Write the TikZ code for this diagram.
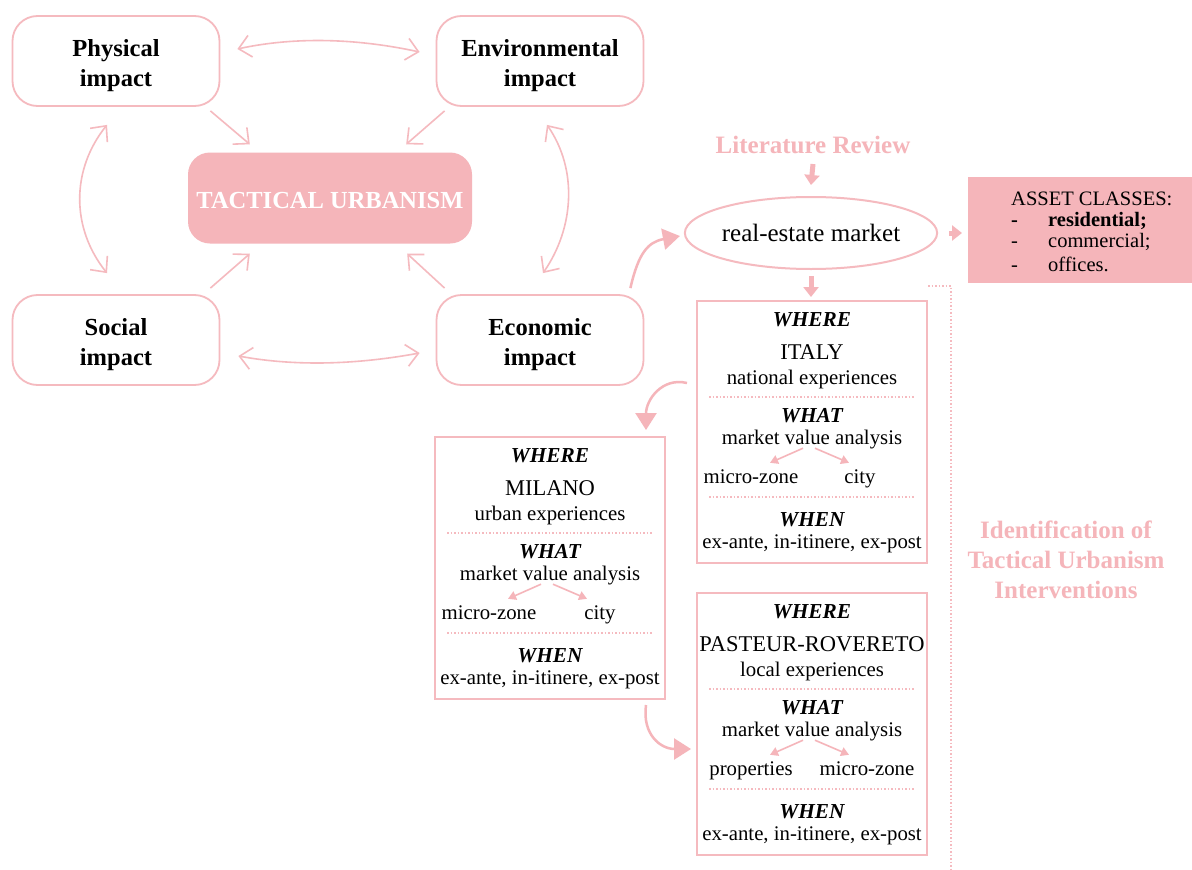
\documentclass[tikz,border=0pt]{standalone}
\usepackage{fontspec}
\setmainfont{Liberation Serif}
\usetikzlibrary{arrows.meta,shapes.geometric,calc}
\definecolor{tupink}{RGB}{245,181,186}
\definecolor{tuline}{RGB}{245,186,191}
\tikzset{
  impact/.style={draw=tuline,line width=1.8pt,rounded corners=25pt,minimum width=207pt,minimum height=90pt,align=center,font=\fontsize{24.5}{30}\selectfont\bfseries},
  core/.style={fill=tupink,rounded corners=22pt,minimum width=284pt,minimum height=91pt,text=white,font=\fontsize{24.5}{27}\selectfont\bfseries,text height=20pt,text depth=0pt},
  mutual/.style={draw=tuline,line width=1.6pt,{Straight Barb[length=12pt,width=22pt]}-{Straight Barb[length=12pt,width=22pt]}},
  toward/.style={draw=tuline,line width=1.6pt,-{Straight Barb[length=12pt,width=22pt]}},
  block/.style={draw=tupink,line width=5pt,-{Triangle[length=10pt,width=15pt]}},
  swing/.style={draw=tupink,line width=2.5pt,-{Triangle[length=17pt,width=21pt]}},
  minor/.style={draw=tupink,line width=1.6pt,-{Triangle[length=8pt,width=9pt]}},
  sep/.style={draw=tuline,line width=1.5pt,dotted},
  wwwbox/.style={draw=tuline,line width=2pt,minimum width=230pt,minimum height=262pt,inner sep=0pt},
  market/.style={ellipse,draw=tuline,line width=2pt,minimum width=230pt,minimum height=72pt,inner sep=0pt,font=\fontsize{25}{28}\selectfont},
  assetbox/.style={fill=tupink,minimum width=224pt,minimum height=106pt,inner sep=0pt},
  pinktitle/.style={text=tupink,align=center,inner sep=0pt,font=\fontsize{25}{30}\selectfont\bfseries},
  head/.style={inner sep=0pt,text height=19pt,text depth=4pt,font=\fontsize{21.3}{24}\selectfont\bfseries\itshape},
  place/.style={inner sep=0pt,text height=19pt,text depth=4pt,font=\fontsize{22.5}{25}\selectfont},
  body/.style={inner sep=0pt,text height=18pt,text depth=4pt,font=\fontsize{20.8}{24}\selectfont}
}
\begin{document}
\begin{tikzpicture}[x=1pt,y=-1pt]
  \useasboundingbox (0,0) rectangle (1192,870);
  \fill[white] (0,0) rectangle (1192,870);

  \node[impact] (phys) at (116,61) {\rule{0pt}{27pt}Physical\\impact};
  \node[impact] (env) at (540,61) {\rule{0pt}{27pt}Environmental\\impact};
  \node[impact] (soc) at (116,340) {\rule{0pt}{27pt}Social\\impact};
  \node[impact] (eco) at (540,340) {\rule{0pt}{27pt}Economic\\impact};
  \node[core] (tu) at (330,198) {TACTICAL URBANISM};

  \draw[mutual] ([xshift=17pt,yshift=12pt]phys.east) .. controls +(60,-13) and +(-60,-13) .. ([xshift=-16pt,yshift=9pt]env.west);
  \draw[mutual] ([xshift=18pt,yshift=-16pt]soc.east) .. controls +(60,11) and +(-60,11) .. ([xshift=-16pt,yshift=-13pt]eco.west);
  \draw[mutual] ([xshift=-9pt,yshift=-18pt]phys.south) .. controls +(-36,45) and +(-36,-45) .. ([xshift=-9pt,yshift=21pt]soc.north);
  \draw[mutual] ([xshift=7pt,yshift=-18pt]env.south) .. controls +(31,45) and +(31,-45) .. ([xshift=3pt,yshift=21pt]eco.north);

  \draw[toward] ([xshift=-10pt,yshift=-4pt]phys.south east) -- ([xshift=62pt,yshift=8pt]tu.north west);
  \draw[toward] ([xshift=9pt,yshift=-4pt]env.south west) -- ([xshift=-66pt,yshift=8pt]tu.north east);
  \draw[toward] ([xshift=-10pt,yshift=6pt]soc.north east) -- ([xshift=62pt,yshift=-10pt]tu.south west);
  \draw[toward] ([xshift=9pt,yshift=6pt]eco.north west) -- ([xshift=-65pt,yshift=-10pt]tu.south east);

  \node[pinktitle] (lit) at (813,145) {Literature Review};
  \node[market] (mkt) at (811,233) {real-estate market};
  \node[assetbox,anchor=north west] (asset) at (968,177) {};
  \node[anchor=north west,align=left,inner sep=0pt,font=\fontsize{20.5}{21}\selectfont] (assettxt) at (1011,192)
    {ASSET CLASSES:\\
     \makebox[37pt][l]{\textbf{-}}\textbf{residential;}\\
     \makebox[37pt][l]{-}commercial;\\[3pt]
     \makebox[37pt][l]{-}offices.};

  \draw[block] ([yshift=-10pt]lit.south) -- ([yshift=11pt]mkt.north);
  \draw[block,shorten <=11pt,shorten >=6pt] (mkt.east) -- (mkt.east -| asset.west);

  \foreach \n/\cx/\ty/\place/\exper/\itema/\itemb/\bx in
    {it/812/300/ITALY/national/micro-zone/city/48,
     mi/550/436/MILANO/urban/micro-zone/city/50,
     pa/812/592/PASTEUR-ROVERETO/local/properties/micro-zone/55}{
    \node[wwwbox,anchor=north] (\n) at (\cx,\ty) {};
    \node[head] (\n-where) at (\cx,\ty+19) {WHERE};
    \node[place] (\n-place) at (\cx,\ty+52) {\place};
    \node[body] (\n-exp) at (\cx,\ty+77) {\exper\ experiences};
    \draw[sep] (\cx-103,\ty+97) -- (\cx+103,\ty+97);
    \node[head] (\n-what) at (\cx,\ty+115) {WHAT};
    \node[body] (\n-mva) at (\cx,\ty+137) {market value analysis};
    \node[body] (\n-a) at (\cx-61,\ty+176) {\itema};
    \node[body] (\n-b) at (\cx+\bx,\ty+176) {\itemb};
    \draw[minor] ([xshift=-9pt]\n-mva.south) -- ([xshift=19pt,yshift=2pt]\n-a.north);
    \draw[minor] ([xshift=3pt]\n-mva.south) -- ($(\n-mva.south |- \n-b.north)+(37,-2)$);
    \draw[sep] (\cx-103,\ty+197) -- (\cx+103,\ty+197);
    \node[head] (\n-when) at (\cx,\ty+219) {WHEN};
    \node[body] (\n-time) at (\cx,\ty+241) {ex-ante, in-itinere, ex-post};
  }

  \draw[block,shorten <=6pt,shorten >=3pt] (mkt.south) -- (mkt.south |- it.north);
  \draw[swing] ([xshift=-14pt,yshift=6pt]eco.north east) .. controls +(8,-35) and +(-32,6) .. ([xshift=-4pt,yshift=-3pt]mkt.west);
  \draw[swing] ([xshift=-9pt,yshift=49pt]it.west) .. controls +(-25,-6) and +(0,-30) .. ([xshift=-20pt,yshift=6pt]mi.north east);
  \draw[swing] ([xshift=-20pt,yshift=-5pt]mi.south east) .. controls +(-4,30) and +(-30,0) .. ([xshift=-5pt,yshift=-25pt]pa.west);

  \draw[sep] ($(it.north east)+(0,-14)$) -- ++(23,0) -- ++(0,584);
  \node[pinktitle] (ident) at (1066,560) {Identification of\\Tactical Urbanism\\Interventions};
\end{tikzpicture}
\end{document}
